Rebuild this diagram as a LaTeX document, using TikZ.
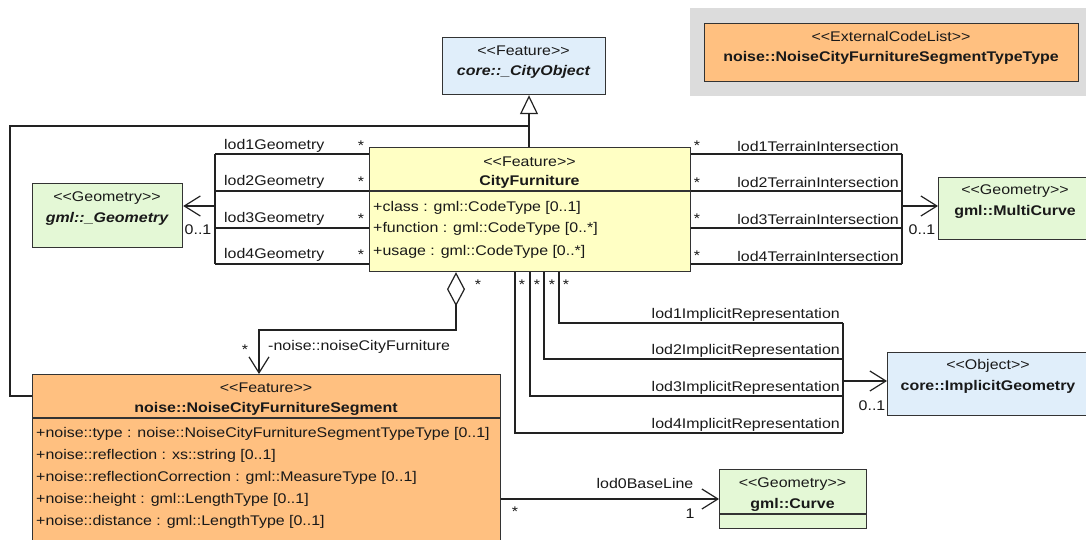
\documentclass[tikz,border=0pt]{standalone}
\usepackage{fontspec}
\setmainfont{Liberation Sans}[FakeStretch=1.14]
\usetikzlibrary{arrows.meta}
\definecolor{boxc}{HTML}{333333}
\definecolor{linec}{HTML}{222222}
\definecolor{bluec}{HTML}{E0EEFA}
\definecolor{yellowc}{HTML}{FFFFC4}
\definecolor{greenc}{HTML}{E4F8D6}
\definecolor{orangec}{HTML}{FFC080}
\definecolor{grayc}{HTML}{DCDCDC}
\newcommand\st[1]{{<}{<}#1{>}{>}}
\begin{document}
\begin{tikzpicture}[x=1pt,y=-1pt,
  every node/.style={font=\fontsize{14}{16}\selectfont, inner sep=0pt, text=black!90},
  cls/.style={draw=boxc, line width=1.2pt, anchor=north west, inner sep=0pt},
  bf/.style={font=\fontsize{14}{16}\selectfont\bfseries},
  bfi/.style={font=\fontsize{14}{16}\selectfont\bfseries\itshape},
  attr/.style={anchor=west},
  conn/.style={draw=linec, line width=1.2pt},
  sep/.style={draw=boxc, line width=1.2pt},
  va/.style={-{Straight Barb[length=16pt,width=20pt]}},
  gen/.style={-{Triangle[width=18pt,length=19pt,fill=white]}},
  agg/.style={{Diamond[length=34pt,width=18pt,fill=white]}-{Straight Barb[length=16pt,width=20pt]}}]
\useasboundingbox (0,0) rectangle (1086,540);
\clip (0,0) rectangle (1086,540);
\fill[white] (0,0) rectangle (1086,540);

% ---- classes ----
\node[cls, fill=bluec, minimum width=163pt, minimum height=57pt] (cityobj) at (442,37) {};
\node (cityobjS) at (523.5,51) {\st{Feature}};
\node[bfi] (cityobjN) at (523.5,72) {core::\_CityObject};

\node[cls, fill=yellowc, minimum width=321pt, minimum height=124pt] (cf) at (369,147) {};
\draw[sep] (cf.west |- 0,191) -- (cf.east |- 0,191);
\node (cfS) at (529.5,162) {\st{Feature}};
\node[bf] (cfN) at (529.5,182) {CityFurniture};
\node[attr] (cfA1) at (373,208) {+class : gml::CodeType [0..1]};
\node[attr] (cfA2) at (373,229) {+function : gml::CodeType [0..*]};
\node[attr] (cfA3) at (373,252) {+usage : gml::CodeType [0..*]};

\node[cls, fill=greenc, minimum width=150pt, minimum height=64pt] (geom) at (32,183) {};
\node (geomS) at (107,198) {\st{Geometry}};
\node[bfi] (geomN) at (107,219) {gml::\_Geometry};

\node[fill=grayc, anchor=north west, minimum width=396pt, minimum height=88pt] (extbg) at (690,8) {};
\node[cls, fill=orangec, minimum width=374pt, minimum height=58pt] (ext) at (704,23) {};
\node (extS) at (891,36) {\st{ExternalCodeList}};
\node[bf] (extN) at (891,58) {noise::NoiseCityFurnitureSegmentTypeType};

\node[cls, fill=greenc, minimum width=154pt, minimum height=62pt] (mcurve) at (938,177) {};
\node (mcurveS) at (1015,191) {\st{Geometry}};
\node[bf] (mcurveN) at (1015,212) {gml::MultiCurve};

\node[cls, fill=bluec, minimum width=202pt, minimum height=63pt] (implicit) at (887,352) {};
\node (implicitS) at (988,366) {\st{Object}};
\node[bf] (implicitN) at (988,387) {core::ImplicitGeometry};

\node[cls, fill=orangec, minimum width=468pt, minimum height=190pt] (noise) at (32,374) {};
\draw[sep] (noise.west |- 0,418) -- (noise.east |- 0,418);
\node (noiseS) at (266,388) {\st{Feature}};
\node[bf] (noiseN) at (266,409) {noise::NoiseCityFurnitureSegment};
\node[attr] (nA1) at (36,434) {+noise::type : noise::NoiseCityFurnitureSegmentTypeType [0..1]};
\node[attr] (nA2) at (36,456) {+noise::reflection : xs::string [0..1]};
\node[attr] (nA3) at (36,478) {+noise::reflectionCorrection : gml::MeasureType [0..1]};
\node[attr] (nA4) at (36,500) {+noise::height : gml::LengthType [0..1]};
\node[attr] (nA5) at (36,522) {+noise::distance : gml::LengthType [0..1]};

\node[cls, fill=greenc, minimum width=147pt, minimum height=59pt] (curve) at (719,469) {};
\draw[sep] (curve.west |- 0,514) -- (curve.east |- 0,514);
\node (curveS) at (792.5,484) {\st{Geometry}};
\node[bf] (curveN) at (792.5,505) {gml::Curve};

% ---- generalization ----
\coordinate (gj) at (529,126);
\coordinate (gl) at (10,126);
\coordinate (gb) at (10,396);
\draw[conn, gen] (cf.north -| gj) -- (cityobj.south -| gj);
\draw[conn] (noise.west |- gb) -- (gb) -- (gl) -- (gj);

% ---- lodXGeometry ----
\coordinate (gx1) at (215,154);
\coordinate (gx4) at (215,264);
\coordinate (gxm) at (215,206);
\foreach \y in {154,191,228,264} \draw[conn] (cf.west |- 0,\y) -- (215,\y);
\draw[conn] (gx1) -- (gx4);
\draw[conn, va] (gxm) -- (geom.east |- gxm);
\foreach \i/\y in {1/145.5,2/182,3/218.5,4/255} {
  \node[anchor=west] (lg\i) at (224,\y) {lod\i Geometry};
  \node (sg\i) at (361,\y) {*};
}
\node (mg) at (198,230) {0..1};

% ---- lodXTerrainIntersection ----
\coordinate (tx1) at (902,154);
\coordinate (tx4) at (902,264);
\coordinate (txm) at (902,206);
\foreach \y in {154,191,228,264} \draw[conn] (cf.east |- 0,\y) -- (902,\y);
\draw[conn] (tx1) -- (tx4);
\draw[conn, va] (txm) -- (mcurve.west |- txm);
\foreach \i/\y in {1/146,2/182.5,3/219,4/256} {
  \node[anchor=east] (lt\i) at (899,\y) {lod\i TerrainIntersection};
  \node (st\i) at (697,\y) {*};
}
\node (mt) at (922,230) {0..1};

% ---- aggregation ----
\coordinate (a1) at (456,330);
\coordinate (a2) at (259,330);
\draw[conn, agg] (cf.south -| a1) -- (a1) -- (a2) -- (noise.north -| a2);
\node (sa1) at (478,285) {*};
\node (sa2) at (245,350) {*};
\node[anchor=west] (la) at (268,347) {-noise::noiseCityFurniture};

% ---- lodXImplicitRepresentation ----
\coordinate (ix1) at (843,323);
\coordinate (ix4) at (843,433);
\coordinate (ixm) at (843,381);
\foreach \x/\y in {559/323,544/359,530/396,515/433} \draw[conn] (cf.south -| \x,0) -- (\x,\y) -- (843,\y);
\draw[conn] (ix1) -- (ix4);
\draw[conn, va] (ixm) -- (implicit.west |- ixm);
\foreach \i/\y in {1/315,2/351,3/388,4/425} {
  \node[anchor=east] (li\i) at (840,\y) {lod\i ImplicitRepresentation};
}
\foreach \i/\x in {1/566,2/552,3/537,4/522} { \node (si\i) at (\x,285) {*}; }
\node (mi) at (872,406) {0..1};

% ---- lod0BaseLine ----
\coordinate (bl) at (0,499);
\draw[conn, va] (noise.east |- bl) -- (curve.west |- bl);
\node (lb) at (645,483) {lod0BaseLine};
\node (sb) at (515,512) {*};
\node (mb) at (690,514) {1};
\end{tikzpicture}
\end{document}
